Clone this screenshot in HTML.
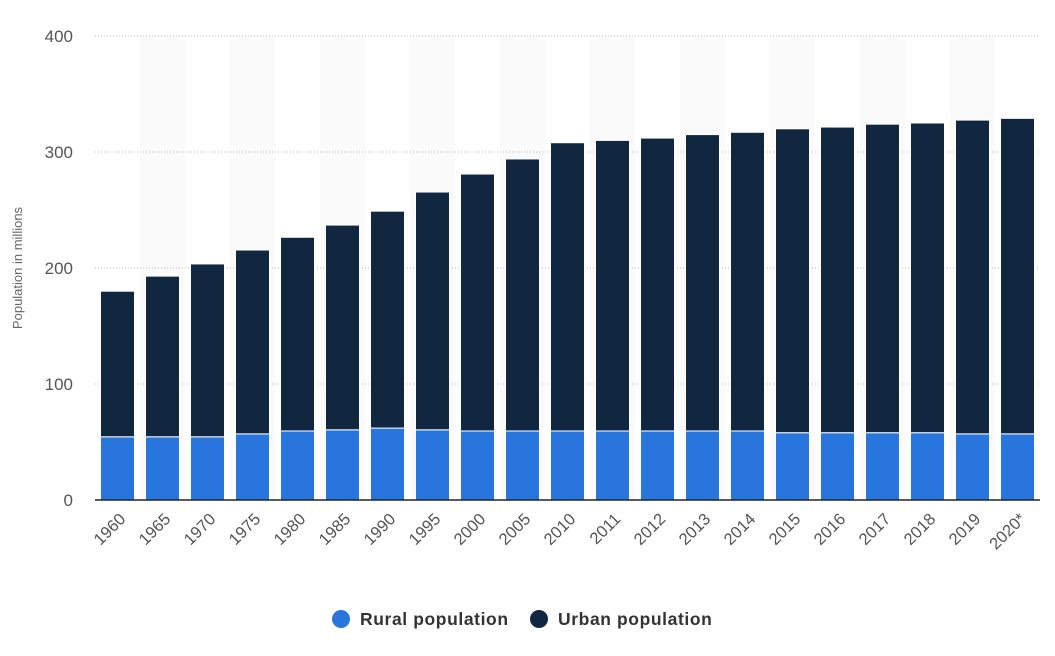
<!DOCTYPE html>
<html><head><meta charset="utf-8"><style>
body{margin:0;background:#fff;font-family:"Liberation Sans",sans-serif}
svg text{font-family:"Liberation Sans",sans-serif}
</style></head><body>
<svg width="1055" height="651">
<g id="stripes"></g><g id="grid"></g><g id="bars"></g><g id="xlabels"></g>
<text transform="translate(22,268) rotate(-90)" text-anchor="middle" font-size="13" fill="#666">Population in millions</text>
<g>
<g><circle cx="341" cy="619" r="9" fill="#2876dd"/><text x="360" y="625" font-size="17.5" font-weight="bold" letter-spacing="0.6" fill="#333">Rural population</text></g>
<g><circle cx="539" cy="619" r="9" fill="#10273f"/><text x="558" y="625" font-size="17.5" font-weight="bold" letter-spacing="0.6" fill="#333">Urban population</text></g>
</g>
</svg>
<script>
const categories=["1960","1965","1970","1975","1980","1985","1990","1995","2000","2005","2010","2011","2012","2013","2014","2015","2016","2017","2018","2019","2020*"];
const rural=[54.5,54.5,54.5,57,59.5,60.5,62,60.5,59.5,59.5,59.5,59.5,59.5,59.5,59.5,58,58,58,58,57,57];
const urban=[125.5,138.5,149,158.5,167,176.5,187,205,221.5,234.5,248.5,250.5,252.5,255.5,257.5,262,263.5,266,267,270.5,272];
const yTicks=[0,100,200,300,400];
const NS="http://www.w3.org/2000/svg";
const left=95,right=1040,y0=500,yTop=36,band=(right-left)/categories.length,bw=34;
const y=v=>y0-(v/400)*(y0-yTop);
const xc=i=>left+band*(i+0.5);
function mk(t,a,p){const e=document.createElementNS(NS,t);for(const k in a)e.setAttribute(k,a[k]);p.appendChild(e);return e;}
const S=document.getElementById('stripes'),G=document.getElementById('grid'),B=document.getElementById('bars'),X=document.getElementById('xlabels');
categories.forEach((c,i)=>{if(i%2==1){const r=mk('rect',{x:xc(i)-band/2,y:yTop,width:band,height:y0-yTop,fill:'#fafafa'},S);

}});
yTicks.forEach(t=>{if(t>0){const l=mk('line',{x1:left,x2:right,y1:y(t),y2:y(t),stroke:'#bbb','stroke-dasharray':'1,2'},G);

}
const tx=mk('text',{x:73,y:y(t)+6,'text-anchor':'end','font-size':'17',fill:'#555'},G);tx.textContent=t;

});
categories.forEach((c,i)=>{const x=xc(i)-bw/2;
const r=mk('rect',{x:x,y:y(rural[i]),width:bw,height:y0-y(rural[i]),fill:'#2876dd',stroke:'#fff','stroke-width':1},B);


const u=mk('rect',{x:x,y:y(rural[i]+urban[i]),width:bw,height:y(rural[i])-y(rural[i]+urban[i]),fill:'#10273f',stroke:'#fff','stroke-width':1},B);


const t=mk('text',{transform:`translate(${xc(i)+9},${y0+20}) rotate(-45)`,'text-anchor':'end','font-size':'16.5',fill:'#555'},X);t.textContent=c;

});
const ax=mk('line',{x1:left,x2:right,y1:y0,y2:y0,stroke:'#222','stroke-width':1.5},B);


</script>
</body></html>
